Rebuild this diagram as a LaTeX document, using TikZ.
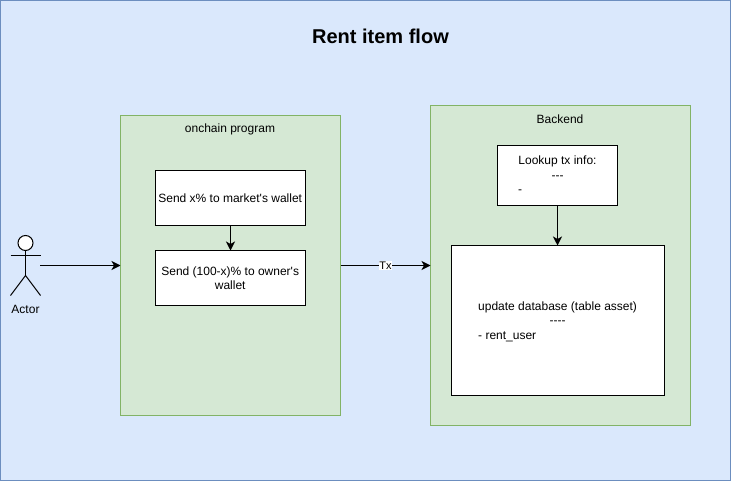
\documentclass[tikz,border=0pt]{standalone}
\usepackage{fontspec}
\setmainfont{Liberation Sans}[Ligatures=TeXOff]
\usetikzlibrary{arrows.meta}
\definecolor{bgblue}{HTML}{DAE8FC}
\definecolor{bgedge}{HTML}{6C8EBF}
\definecolor{grnfill}{HTML}{D5E8D4}
\definecolor{grnedge}{HTML}{82B366}
\tikzset{
 panel/.style={draw=grnedge,fill=grnfill,line width=1pt,outer sep=0pt},
 whitebox/.style={draw=black,fill=white,line width=1pt,outer sep=0pt},
 lbl/.style={font=\fontsize{12}{14.4}\selectfont,inner sep=0pt,text=black},
 conn/.style={draw=black,line width=1pt,-{Stealth[length=9pt,width=9pt,inset=2.5pt]}},
 stick/.style={draw=black,line width=1pt},
}
\begin{document}
\begin{tikzpicture}[x=1pt,y=-1pt]
\useasboundingbox (0,0) rectangle (731,481);
\node[draw=bgedge,fill=bgblue,line width=1pt,outer sep=0pt,minimum width=730pt,minimum height=480pt,inner sep=0pt,anchor=north west] (bg) at (0.5,0.5) {};
\node[font=\bfseries\fontsize{20}{24}\selectfont,inner sep=0pt] (title) at (380.5,36) {Rent item flow};
% panels
\node[panel,minimum width=220pt,minimum height=300pt,inner sep=0pt,anchor=north west] (chain) at (120.5,115.5) {};
\node[lbl,anchor=center] (chainlbl) at (230,129) {onchain program};
\node[panel,minimum width=260pt,minimum height=320pt,inner sep=0pt,anchor=north west] (back) at (430.5,105.5) {};
\node[lbl,anchor=center] (backlbl) at (560,119) {Backend};
% on-chain boxes
\node[whitebox,minimum width=150pt,minimum height=55pt,inner sep=0pt,anchor=north west] (market) at (155.5,170.5) {};
\node[lbl] (markettxt) at (230.2,198) {Send x\% to market's wallet};
\node[whitebox,minimum width=150pt,minimum height=55pt,inner sep=0pt,anchor=north west] (owner) at (155.5,250.5) {};
\node[lbl,align=center] (ownertxt) at (230.2,278) {Send (100-x)\% to owner's\\wallet};
% backend boxes
\node[whitebox,minimum width=120pt,minimum height=60pt,inner sep=0pt,anchor=north west] (lookup) at (497.5,145.5) {};
\node[lbl,anchor=base] (lk1) at (557.5,165) {Lookup tx info:};
\node[lbl,anchor=base] (lk2) at (557.5,179.5) {---};
\node[lbl,anchor=base west] (lk3) at (518,194) {-};
\node[whitebox,minimum width=213pt,minimum height=150pt,inner sep=0pt,anchor=north west] (update) at (451,245.5) {};
\node[lbl,anchor=base west] (up1) at (478,310) {update database (table asset)};
\node[lbl,anchor=base] (up2) at (557.5,324.5) {----};
\node[lbl,anchor=base west] (up3) at (478,339) {- rent\_user};
% actor
\coordinate (head) at (25.5,243);
\node[draw=black,fill=white,circle,line width=1pt,outer sep=0pt,minimum size=15pt,inner sep=0pt] (actorhead) at (head) {};
\coordinate (hip) at (25.5,275.5);
\coordinate (armL) at (10.5,255.5);
\coordinate (armR) at (40.5,255.5);
\coordinate (footL) at (10.5,295.5);
\coordinate (footR) at (40.5,295.5);
\draw[stick] (actorhead.south) -- (hip);
\draw[stick] (armL) -- (armR);
\draw[stick] (footL) -- (hip) -- (footR);
\node[lbl] (actorlbl) at (25.5,309) {Actor};
% connectors
\coordinate (actorout) at (40,265.5);
\draw[conn] (actorout) -- (chain.west |- actorout);
\draw[conn] (market.south) -- (owner.north);
\coordinate (txstart) at (chain.east |- actorout);
\draw[conn] (txstart) -- node[lbl,fill=white,inner xsep=0.7pt,inner ysep=0.7pt,font=\fontsize{11}{12}\selectfont] (txlbl) {Tx} (back.west |- actorout);
\draw[conn] (lookup.south) -- (lookup.south |- update.north);
\end{tikzpicture}
\end{document}
